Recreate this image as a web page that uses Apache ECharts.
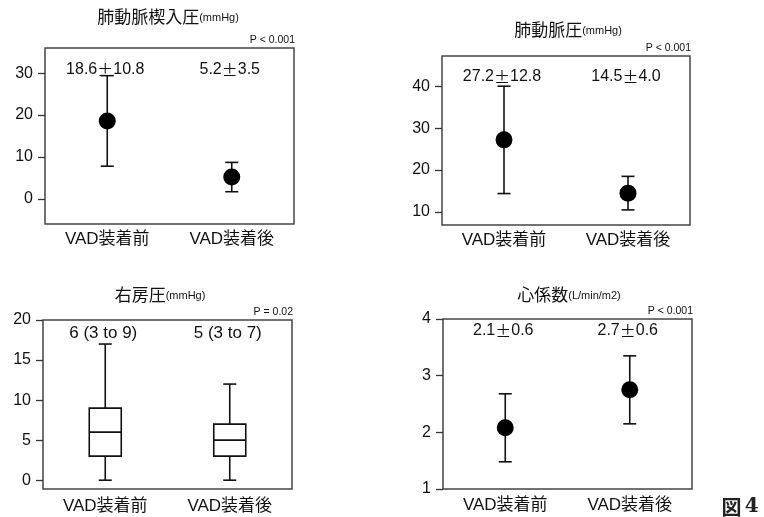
<!DOCTYPE html>
<html>
<head>
<meta charset="utf-8">
<script src="https://cdn.jsdelivr.net/npm/echarts@6/dist/echarts.min.js"></script>
<style>
  html, body { margin: 0; background: #fff; }
  #chart { width: 764px; height: 517px; }
</style>
</head>
<body>
<div id="chart"></div>
<script>
// ---------- data ----------
const categories = ['VAD装着前', 'VAD装着後']

// 肺動脈楔入圧 (mean, SD)
const pawpMean = [18.6, 5.2]
const pawpSd = [10.8, 3.5]
const pawpText = ['18.6±10.8', '5.2±3.5']
const pawpTicks = [0, 10, 20, 30]

// 肺動脈圧 (mean, SD)
const papMean = [27.2, 14.5]
const papSd = [12.8, 4.0]
const papText = ['27.2±12.8', '14.5±4.0']
const papTicks = [10, 20, 30, 40]

// 右房圧 (min, Q1, median, Q3, max)
const rapBox = [[0, 3, 6, 9, 17], [0, 3, 5, 7, 12]]
const rapText = ['6 (3 to 9)', '5 (3 to 7)']
const rapTicks = [0, 5, 10, 15, 20]

// 心係数 (mean, SD)
const ciMean = [2.08, 2.75]
const ciSd = [0.6, 0.6]
const ciText = ['2.1±0.6', '2.7±0.6']
const ciTicks = [1, 2, 3, 4]

// ---------- styles ----------
const LATIN = '"Liberation Sans", Arial, sans-serif'
const CJK = '"Noto Sans CJK JP", sans-serif'
const MIXED = '"Liberation Sans", "Noto Sans CJK JP", sans-serif'
const INK = '#111'

const panels = [
  { grid: { left: 45, top: 48, width: 249, height: 176 }, min: -6, max: 36, ticks: pawpTicks,
    title: ['肺動脈楔入圧', '(mmHg)'], tx: 168, ty: 17, p: 'P < 0.001', textOff: 22, labelMargin: 8 },
  { grid: { left: 442, top: 56, width: 248, height: 169 }, min: 6.9, max: 47.2, ticks: papTicks,
    title: ['肺動脈圧', '(mmHg)'], tx: 568, ty: 30, p: 'P < 0.001', textOff: 21, labelMargin: 8 },
  { grid: { left: 43, top: 320, width: 249, height: 169 }, min: -1.1, max: 20, ticks: rapTicks,
    title: ['右房圧', '(mmHg)'], tx: 160, ty: 295, p: 'P = 0.02', textOff: 13, labelMargin: 10 },
  { grid: { left: 443, top: 319, width: 249, height: 170 }, min: 1, max: 4, ticks: ciTicks,
    title: ['心係数', '(L/min/m2)'], tx: 569, ty: 295, p: 'P < 0.001', textOff: 12, labelMargin: 9 }
]

const pmRich = s => '{n|' + s.split('±').join('}{p|±}{n|') + '}'

function errorBarItem(params, api) {
  const i = api.value(0), m = api.value(1), sd = api.value(2)
  const top = api.coord([i, m + sd])
  const bot = api.coord([i, m - sd])
  const st = { stroke: INK, lineWidth: 1.6 }
  return {
    type: 'group',
    children: [
      { type: 'line', shape: { x1: top[0], y1: top[1], x2: bot[0], y2: bot[1] }, style: st },
      { type: 'line', shape: { x1: top[0] - 6.5, y1: top[1], x2: top[0] + 6.5, y2: top[1] }, style: st },
      { type: 'line', shape: { x1: bot[0] - 6.5, y1: bot[1], x2: bot[0] + 6.5, y2: bot[1] }, style: st }
    ]
  }
}

function boxItem(params, api) {
  const i = api.value(0)
  const pMin = api.coord([i, api.value(1)])
  const pQ1 = api.coord([i, api.value(2)])
  const pMed = api.coord([i, api.value(3)])
  const pQ3 = api.coord([i, api.value(4)])
  const pMax = api.coord([i, api.value(5)])
  const x = pMin[0], hw = 16, cw = 6.5
  const st = { stroke: INK, lineWidth: 1.6 }
  return {
    type: 'group',
    children: [
      { type: 'line', shape: { x1: x, y1: pMax[1], x2: x, y2: pQ3[1] }, style: st },
      { type: 'line', shape: { x1: x, y1: pQ1[1], x2: x, y2: pMin[1] }, style: st },
      { type: 'line', shape: { x1: x - cw, y1: pMax[1], x2: x + cw, y2: pMax[1] }, style: st },
      { type: 'line', shape: { x1: x - cw, y1: pMin[1], x2: x + cw, y2: pMin[1] }, style: st },
      { type: 'rect', shape: { x: x - hw, y: pQ3[1], width: hw * 2, height: pQ1[1] - pQ3[1] },
        style: { fill: '#fff', stroke: INK, lineWidth: 1.6 } },
      { type: 'line', shape: { x1: x - hw, y1: pMed[1], x2: x + hw, y2: pMed[1] }, style: st }
    ]
  }
}

function annotationSeries(idx, texts, off, size) {
  return {
    type: 'custom',
    xAxisIndex: idx, yAxisIndex: idx,
    silent: true, z: 5,
    data: texts.map((t, i) => [i, panels[idx].max]),
    renderItem: (params, api) => {
      const x = api.coord([api.value(0), api.value(1)])[0]
      return {
        type: 'text',
        x: x - 2, y: params.coordSys.y + off,
        style: {
          text: pmRich(texts[params.dataIndex]),
          align: 'center', verticalAlign: 'middle',
          rich: {
            n: { fontFamily: LATIN, fontSize: size, fill: INK },
            p: { fontFamily: CJK, fontSize: size, fill: INK }
          }
        }
      }
    }
  }
}

const grid = panels.map(p => Object.assign({ show: true, borderColor: '#444', borderWidth: 1.5, backgroundColor: 'transparent' }, p.grid))

const xAxis = panels.map((p, i) => ({
  type: 'category', gridIndex: i, data: categories,
  axisLine: { show: false }, axisTick: { show: false }, splitLine: { show: false },
  axisLabel: { fontFamily: MIXED, fontSize: 17, color: INK, margin: p.labelMargin - 1 }
}))

const yAxis = panels.map((p, i) => ({
  type: 'value', gridIndex: i, min: p.min, max: p.max,
  axisLine: { show: false }, splitLine: { show: false },
  axisTick: { show: true, length: 7, lineStyle: { color: '#333', width: 1.3 }, customValues: p.ticks },
  axisLabel: { customValues: p.ticks, fontFamily: LATIN, fontSize: 16, color: INK, margin: 12 }
}))

const meanSeries = (idx, mean, sd) => [
  { type: 'custom', xAxisIndex: idx, yAxisIndex: idx, z: 2, silent: true,
    data: mean.map((m, i) => [i, m, sd[i]]), renderItem: errorBarItem },
  { type: 'scatter', xAxisIndex: idx, yAxisIndex: idx, z: 3, silent: true,
    symbol: 'circle', symbolSize: 17, itemStyle: { color: '#000', opacity: 1 },
    data: mean.map((m, i) => [i, m]) }
]

const series = [
  ...meanSeries(0, pawpMean, pawpSd),
  ...meanSeries(1, papMean, papSd),
  { type: 'custom', xAxisIndex: 2, yAxisIndex: 2, z: 2, silent: true,
    data: rapBox.map((b, i) => [i, ...b]), renderItem: boxItem },
  ...meanSeries(3, ciMean, ciSd),
  annotationSeries(0, pawpText, panels[0].textOff, 16),
  annotationSeries(1, papText, panels[1].textOff, 16),
  annotationSeries(2, rapText, panels[2].textOff, 17),
  annotationSeries(3, ciText, panels[3].textOff, 16)
]

const graphic = []
panels.forEach(p => {
  graphic.push({
    type: 'text', x: p.tx, y: p.ty,
    style: {
      text: '{t|' + p.title[0] + '}{u|' + p.title[1] + '}',
      align: 'center', verticalAlign: 'middle',
      rich: {
        t: { fontFamily: CJK, fontSize: 17, fill: INK, verticalAlign: 'bottom' },
        u: { fontFamily: LATIN, fontSize: 11, fill: INK, verticalAlign: 'bottom', padding: [0, 0, 2, 0] }
      }
    }
  })
  graphic.push({
    type: 'text', x: p.grid.left + p.grid.width + 1, y: p.grid.top - 2,
    style: { text: p.p, align: 'right', verticalAlign: 'bottom', fontFamily: LATIN, fontSize: 10.5, fill: INK }
  })
})
graphic.push({
  type: 'text', x: 740, y: 507,
  style: {
    text: '{a|図} {b|4}', align: 'center', verticalAlign: 'middle',
    rich: {
      a: { fontFamily: CJK, fontWeight: 'bold', fontSize: 20, fill: '#222' },
      b: { fontFamily: '"DejaVu Serif", "Liberation Serif", serif', fontWeight: 'bold', fontSize: 20, fill: '#222' }
    }
  }
})

const chart = echarts.init(document.getElementById('chart'))
chart.setOption({
  animation: false,
  backgroundColor: '#fff',
  grid, xAxis, yAxis, series, graphic
})
</script>
</body>
</html>
